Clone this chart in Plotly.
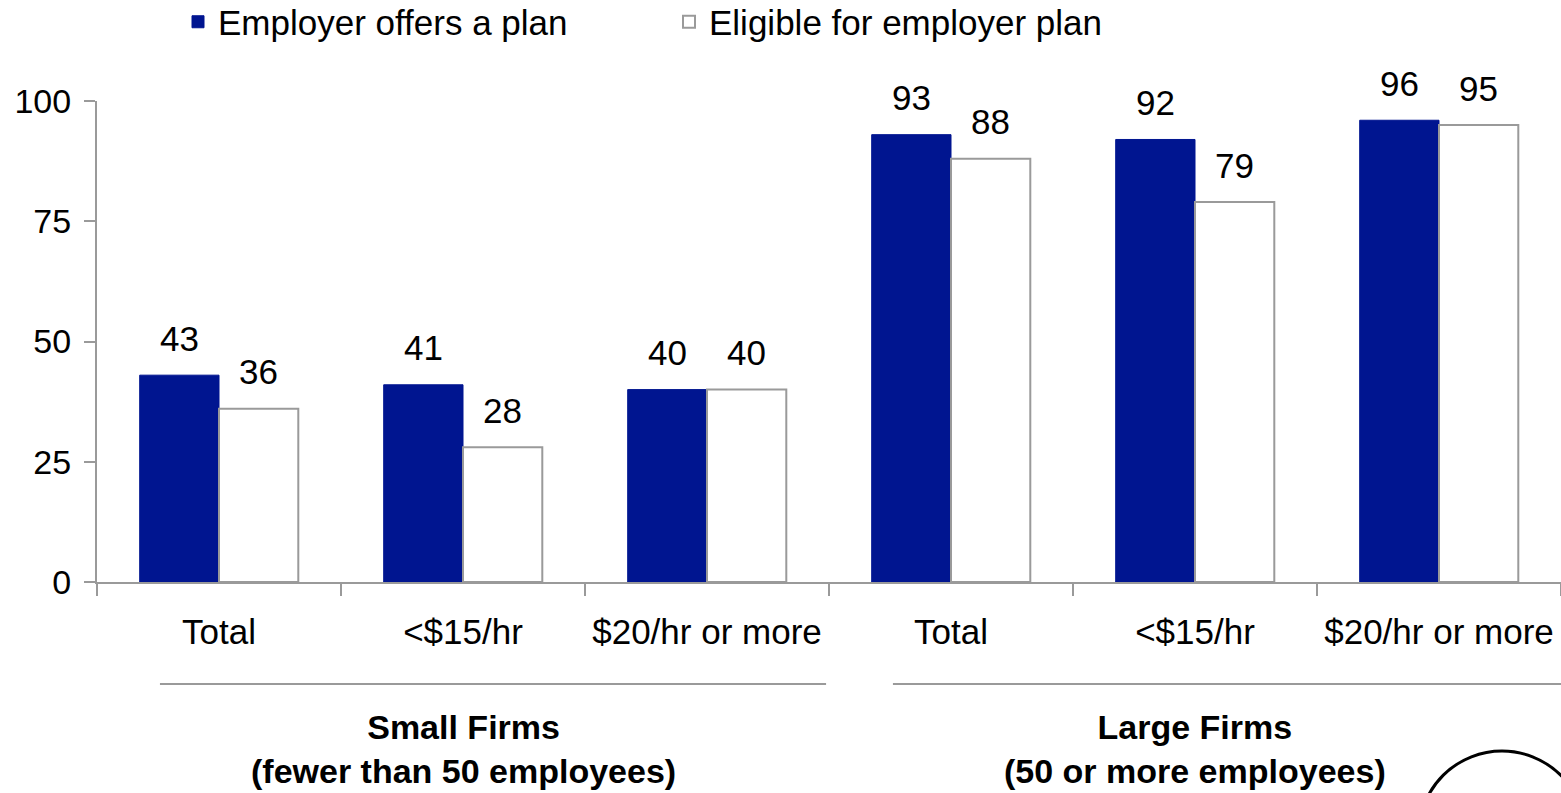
import plotly.graph_objects as go

# Share of workers whose employer offers a retirement plan, and share eligible for it
wage_groups = ["Total", "<$15/hr", "$20/hr or more", "Total", "<$15/hr", "$20/hr or more"]
offers_plan = [43, 41, 40, 93, 92, 96]
eligible_plan = [36, 28, 40, 88, 79, 95]
firm_groups = ["Small Firms<br>(fewer than 50 employees)", "Large Firms<br>(50 or more employees)"]
firm_group_centers = [1, 4]
y_ticks = [0, 25, 50, 75, 100]

FONT = "Liberation Sans, Arial, sans-serif"
BLUE = "#001590"
GRAY = "#9a9a9a"

positions = list(range(len(wage_groups)))

fig = go.Figure()
fig.add_trace(go.Bar(
    x=positions, y=offers_plan, name="Employer offers a plan",
    marker=dict(color=BLUE, line=dict(color=BLUE, width=1)),
))
fig.add_trace(go.Bar(
    x=positions, y=eligible_plan, name="Eligible for employer plan",
    marker=dict(color="white", line=dict(color=GRAY, width=2)),
))

# value labels above each bar
bar_half = 39.6
for series, shift in ((offers_plan, -bar_half), (eligible_plan, bar_half)):
    for xi, v in zip(positions, series):
        fig.add_annotation(
            x=xi, y=v, xref="x", yref="y", text=str(v), showarrow=False,
            xshift=shift, yshift=37, yanchor="middle",
            font=dict(family=FONT, size=35, color="black"),
        )

# firm-size group captions
for label, cx in zip(firm_groups, firm_group_centers):
    fig.add_annotation(
        x=cx, y=-0.257, xref="x", yref="paper", text="<b>" + label + "</b>",
        showarrow=False, yanchor="top", align="center",
        font=dict(family=FONT, size=34, color="black"),
    )

# rules under each group of wage categories
for x0, x1 in ((-0.242, 2.488), (2.762, 5.5)):
    fig.add_shape(type="line", xref="x", yref="paper", x0=x0, x1=x1,
                  y0=-0.212, y1=-0.212, line=dict(color=GRAY, width=2))

# circular badge at lower right corner
fig.add_shape(type="circle", xref="paper", yref="paper",
              x0=(1419 - 97) / 1464, x1=(1585 - 97) / 1464,
              y0=(582 - 916) / 481, y1=(582 - 751) / 481,
              line=dict(color="black", width=3))

fig.update_layout(
    width=1561, height=793,
    margin=dict(l=97, r=0, t=101, b=211, autoexpand=False),
    paper_bgcolor="white", plot_bgcolor="white",
    barmode="group", bargap=0.35, bargroupgap=0,
    font=dict(family=FONT, color="black"),
    showlegend=True,
    legend=dict(
        orientation="h", x=(178 - 97) / 1464, xanchor="left",
        y=1 + (101 - 22) / 481, yanchor="middle",
        font=dict(family=FONT, size=35, color="black"),
        entrywidth=446, entrywidthmode="pixels",
        bgcolor="rgba(0,0,0,0)",
    ),
    xaxis=dict(
        range=[-0.5, 5.5], tickmode="array", tickvals=positions, ticktext=wage_groups,
        ticks="", showline=True, linecolor=GRAY, linewidth=2,
        showgrid=False, zeroline=False,
        tickfont=dict(family=FONT, size=35, color="black"),
        ticklabelstandoff=18,
        minor=dict(tick0=-0.5, dtick=1, ticks="outside", ticklen=12,
                   tickcolor=GRAY, tickwidth=2, showgrid=False),
    ),
    yaxis=dict(
        range=[0, 100], tickmode="array", tickvals=y_ticks,
        ticks="outside", ticklen=11, tickcolor=GRAY, tickwidth=2,
        showline=True, linecolor=GRAY, linewidth=2,
        showgrid=False, zeroline=False,
        tickfont=dict(family=FONT, size=34, color="black"),
        ticklabelstandoff=6,
    ),
)

fig.write_html("out.html")
